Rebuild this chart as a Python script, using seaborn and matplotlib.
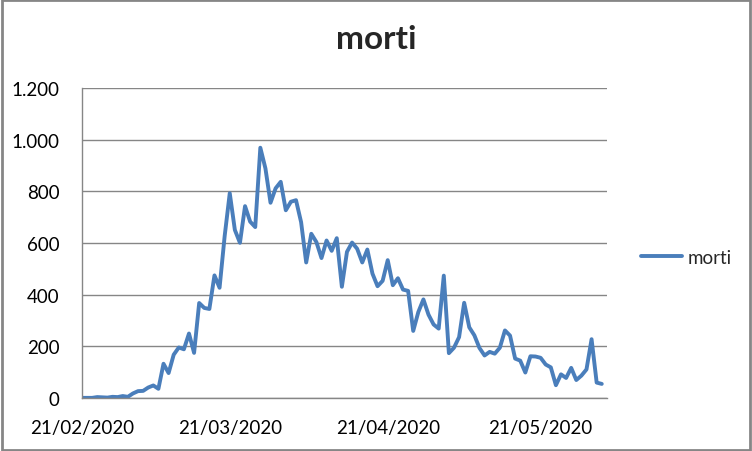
import pandas as pd
import matplotlib.pyplot as plt
import matplotlib.dates as mdates
import matplotlib.ticker as mticker
from matplotlib.patches import Rectangle
import seaborn as sns

# ── Data: daily deaths from 21/02/2020 ────────────────────────────────────────

start_date = '2020-02-21'
morti = [
    1, 1, 1, 4, 3, 2, 5, 4, 8,                                   # 21/02 - 29/02
    5, 18, 27, 28, 41, 49, 36, 133, 97, 168, 196, 189, 250, 175,  # 01/03 - 14/03
    368, 349, 345, 475, 427, 627, 793, 651, 601, 743, 683, 662,   # 15/03 - 26/03
    969, 889, 756, 812, 837,                                      # 27/03 - 31/03
    727, 760, 766, 681, 525, 636, 604, 542, 610, 570, 619, 431,   # 01/04 - 12/04
    566, 602, 578, 525, 575, 482, 433, 454, 534, 437, 464, 420,   # 13/04 - 24/04
    415, 260, 333, 382, 323, 285,                                 # 25/04 - 30/04
    269, 474, 174, 195, 236, 369, 274, 243, 194, 165, 179, 172,   # 01/05 - 12/05
    195, 262, 242, 153, 145, 99, 162, 161, 156, 130, 119, 50,     # 13/05 - 24/05
    92, 78, 117, 70, 87, 111, 228,                                # 25/05 - 31/05
    60, 55,                                                       # 01/06 - 02/06
]
tick_dates = ['2020-02-21', '2020-03-21', '2020-04-21', '2020-05-21']
y_ticks = [0, 200, 400, 600, 800, 1000, 1200]

df = pd.DataFrame({
    'Data': pd.date_range(start_date, periods=len(morti), freq='D'),
    'morti': morti,
})

# ── Chart ─────────────────────────────────────────────────────────────────────

sns.set_style('white')
plt.rcParams['font.family'] = ['Lato', 'DejaVu Sans']

fig = plt.figure(figsize=(7.52, 4.52), dpi=100)
ax = fig.add_axes([0.109, 0.117, 0.698, 0.686])

sns.lineplot(data=df, x='Data', y='morti', ax=ax, color='#4A7EBB',
             linewidth=2.8, label='morti', legend=False)

ax.set_xlim(pd.Timestamp(start_date), pd.Timestamp(start_date) + pd.Timedelta(days=103))
ax.set_ylim(0, 1200)
ax.set_xticks(pd.to_datetime(tick_dates))
ax.xaxis.set_major_formatter(mdates.DateFormatter('%d/%m/%Y'))
ax.set_yticks(y_ticks)
ax.yaxis.set_major_formatter(
    mticker.FuncFormatter(lambda v, p: f'{int(v):,}'.replace(',', '.')))

ax.grid(axis='y', color='#868686', linewidth=1)
ax.set_axisbelow(True)
for side in ['top', 'right']:
    ax.spines[side].set_visible(False)
for side in ['left', 'bottom']:
    ax.spines[side].set_color('#868686')
    ax.spines[side].set_linewidth(1)
ax.tick_params(axis='both', which='major', length=5, width=1, color='#868686',
               labelsize=13.5, labelcolor='black', direction='out')
ax.tick_params(axis='y', pad=11)
ax.tick_params(axis='x', pad=10)
ax.set_xlabel('')
ax.set_ylabel('')

fig.text(0.5, 0.912, 'morti', ha='center', va='center',
         fontsize=24, fontweight='bold')

handles, labels = ax.get_legend_handles_labels()
fig.legend(handles, labels, loc='center left', bbox_to_anchor=(0.83, 0.429),
           frameon=False, fontsize=13.5, handlelength=2.2, handletextpad=0.3)

fig.patches.append(Rectangle((0.002, 0.003), 0.996, 0.994, transform=fig.transFigure,
                             fill=False, edgecolor='#868686', linewidth=2))

plt.savefig('out.png', dpi=100)
